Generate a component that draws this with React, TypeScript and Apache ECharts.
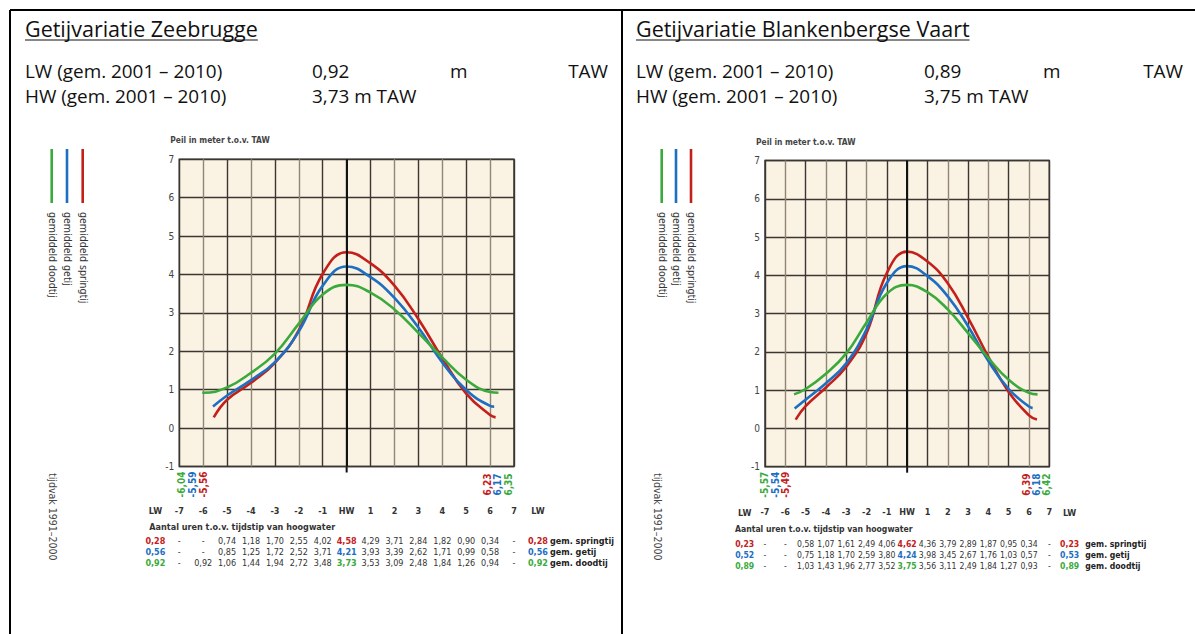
import React, { useEffect, useRef } from 'react';
import * as echarts from 'echarts';

// ---------- DATA ----------
const hours = [-7, -6, -5, -4, -3, -2, -1, 0, 1, 2, 3, 4, 5, 6, 7];
const seriesNames = ['gem. springtij', 'gem. getij', 'gem. doodtij'];
const legendNames = ['gemiddeld springtij', 'gemiddeld getij', 'gemiddeld doodtij'];

// Zeebrugge
const zbSpring = [null, null, 0.74, 1.18, 1.70, 2.55, 4.02, 4.58, 4.29, 3.71, 2.84, 1.82, 0.90, 0.34, null];
const zbMean = [null, null, 0.85, 1.25, 1.72, 2.52, 3.71, 4.21, 3.93, 3.39, 2.62, 1.71, 0.99, 0.58, null];
const zbNeap = [null, 0.92, 1.06, 1.44, 1.94, 2.72, 3.48, 3.73, 3.53, 3.09, 2.48, 1.84, 1.26, 0.94, null];
const zbLwStartLevel = [0.28, 0.56, 0.92];
const zbLwEndLevel = [0.28, 0.56, 0.92];
const zbLwStartTime = [-5.56, -5.59, -6.04];
const zbLwEndTime = [6.23, 6.17, 6.35];

// Blankenbergse Vaart
const bvSpring = [null, null, 0.58, 1.07, 1.61, 2.49, 4.06, 4.62, 4.36, 3.79, 2.89, 1.87, 0.95, 0.34, null];
const bvMean = [null, null, 0.75, 1.18, 1.70, 2.59, 3.80, 4.24, 3.98, 3.45, 2.67, 1.76, 1.03, 0.57, null];
const bvNeap = [null, null, 1.03, 1.43, 1.96, 2.77, 3.52, 3.75, 3.56, 3.11, 2.49, 1.84, 1.27, 0.93, null];
const bvLwStartLevel = [0.23, 0.52, 0.89];
const bvLwEndLevel = [0.23, 0.53, 0.89];
const bvLwStartTime = [-5.49, -5.54, -5.57];
const bvLwEndTime = [6.39, 6.18, 6.42];

const yTicks = { min: -1, max: 7, interval: 1 };

// ---------- STYLE / LAYOUT ----------
const W = 1195;
const H = 634;
const COLORS = ['#c3201c', '#1c6fc2', '#3aaa3c']; // spring, mean, neap
const FONT_HEAD = '"Open Sans", "Noto Sans", sans-serif';
const FONT_SMALL = '"Liberation Sans Narrow", "DejaVu Sans Condensed", Roboto, sans-serif';
const DARK = '#3a3633';
const GREY = '#8f8676';
const BG = '#faf2e2';

type Panel = {
  title: string; lwVal: string; hwVal: string;
  data: (number | null)[][];
  lwStartLevel: number[]; lwEndLevel: number[]; lwStartTime: number[]; lwEndTime: number[];
  textX: number; valX: number; mX: number; tawRight: number;
  grid: { left: number; top: number; width: number; height: number };
  legendX: number[]; tijdvakX: number;
  labelRowY: number; aantalY: number; rowY: number[];
  startLabelDx: number[]; endLabelDx: number[];
  tableSize: number;
};

const panels: Panel[] = [
  {
    title: 'Getijvariatie Zeebrugge', lwVal: '0,92', hwVal: '3,73 m TAW',
    data: [zbSpring, zbMean, zbNeap],
    lwStartLevel: zbLwStartLevel, lwEndLevel: zbLwEndLevel, lwStartTime: zbLwStartTime, lwEndTime: zbLwEndTime,
    textX: 25, valX: 312, mX: 450, tawRight: 608,
    grid: { left: 179.3, top: 159.3, width: 334.7, height: 307.2 },
    legendX: [82.7, 67, 51.7], tijdvakX: 53,
    labelRowY: 511, aantalY: 527, rowY: [541, 552.3, 563],
    startLabelDx: [24, 13, 2.5], endLabelDx: [-27, -16.5, -6],
    tableSize: 9,
  },
  {
    title: 'Getijvariatie Blankenbergse Vaart', lwVal: '0,89', hwVal: '3,75 m TAW',
    data: [bvSpring, bvMean, bvNeap],
    lwStartLevel: bvLwStartLevel, lwEndLevel: bvLwEndLevel, lwStartTime: bvLwStartTime, lwEndTime: bvLwEndTime,
    textX: 636, valX: 924, mX: 1043, tawRight: 1183,
    grid: { left: 765, top: 160.5, width: 284.3, height: 306.2 },
    legendX: [691, 676, 661.7], tijdvakX: 658,
    labelRowY: 512.7, aantalY: 529, rowY: [544, 555.3, 566],
    startLabelDx: [20, 10, -0.5], endLabelDx: [-23.3, -13.3, -2.5],
    tableSize: 8.6,
  },
];

const fmt = (v: number | null) => (v === null ? '-' : v.toFixed(2).replace('.', ','));

function measure(text: string, font: string) {
  const c = document.createElement('canvas').getContext('2d')!;
  c.font = font;
  return c.measureText(text).width;
}

function txt(x: number, y: number, text: string, o: any = {}) {
  const align = o.align || 'left';
  const valign = o.valign || 'middle';
  return {
    type: 'text', x, y, rotation: o.rotation || 0, silent: true,
    style: {
      text, fill: o.color || '#222', fontSize: o.size || 10, fontFamily: o.family || FONT_SMALL,
      fontWeight: o.weight || 'normal',
      align, verticalAlign: valign, textAlign: align, textVerticalAlign: valign,
    },
  };
}

function line(x1: number, y1: number, x2: number, y2: number, color: string, width: number) {
  return { type: 'line', silent: true, shape: { x1, y1, x2, y2 }, style: { stroke: color, lineWidth: width } };
}

function buildOption() {
  const grids: any[] = [];
  const xAxes: any[] = [];
  const yAxes: any[] = [];
  const series: any[] = [];
  const g: any[] = [];

  // frame
  g.push(line(10, 10, W, 10, '#000', 2));
  g.push(line(10, 10, 10, H, '#000', 2));
  g.push(line(622, 10, 622, H, '#000', 2));

  panels.forEach((p, pi) => {
    const gr = p.grid;
    const colW = gr.width / 14;
    const colX = (h: number) => gr.left + (h + 7) * colW;
    const gridRight = gr.left + gr.width;
    const gridBottom = gr.top + gr.height;

    grids.push({
      left: gr.left, top: gr.top, width: gr.width, height: gr.height,
      show: true, backgroundColor: BG, borderColor: DARK, borderWidth: 1.5,
    });
    xAxes.push({
      gridIndex: pi, type: 'value', min: -7, max: 7, interval: 1,
      axisLine: { show: false }, axisTick: { show: false },
      splitLine: {
        show: true,
        lineStyle: { width: 1.4, color: hours.map((h) => (h !== 0 && Math.abs(h) % 2 === 0 ? GREY : DARK)) },
      },
      axisLabel: {
        show: true, margin: p.labelRowY - gridBottom - 5, fontSize: 9, fontWeight: 'bold',
        fontFamily: FONT_SMALL, color: '#333', showMinLabel: true, showMaxLabel: true,
        formatter: (v: number) => (v === 0 ? 'HW' : String(v)),
      },
    });
    yAxes.push({
      gridIndex: pi, type: 'value', ...yTicks,
      axisLine: { show: false }, axisTick: { show: false },
      splitLine: { show: true, lineStyle: { width: 1.4, color: DARK } },
      axisLabel: { show: true, margin: 5, fontSize: 10, fontFamily: FONT_SMALL, color: '#444' },
    });

    p.data.forEach((vals, si) => {
      const pts: number[][] = [[p.lwStartTime[si], p.lwStartLevel[si]]];
      hours.forEach((h, i) => {
        const v = vals[i];
        if (v !== null && h > p.lwStartTime[si] && h < p.lwEndTime[si]) pts.push([h, v]);
      });
      pts.push([p.lwEndTime[si], p.lwEndLevel[si]]);
      series.push({
        type: 'line', name: seriesNames[si], xAxisIndex: pi, yAxisIndex: pi,
        data: pts, smooth: 0.45, symbol: 'none', silent: true,
        lineStyle: { color: COLORS[si], width: 2.6 }, itemStyle: { color: COLORS[si] },
        z: 3 + si,
        markLine: si === 0 ? {
          silent: true, symbol: 'none', label: { show: false },
          lineStyle: { color: '#111', width: 2, type: 'solid' },
          data: [{ xAxis: 0 }],
        } : undefined,
      });
    });

    // HW line extension below the grid
    g.push(line(colX(0), gridBottom, colX(0), gridBottom + 6, '#111', 2));

    // header
    const titleFont = 21.5;
    g.push(txt(p.textX, 28, p.title, { size: titleFont, family: FONT_HEAD, color: '#111' }));
    const tw = measure(p.title, `${titleFont}px "Open Sans"`);
    g.push(line(p.textX, 40, p.textX + tw, 40, '#111', 1));
    const hs = 18.9;
    g.push(txt(p.textX, 71, 'LW (gem. 2001 – 2010)', { size: hs, family: FONT_HEAD, color: '#111' }));
    g.push(txt(p.valX, 71, p.lwVal, { size: hs, family: FONT_HEAD, color: '#111' }));
    g.push(txt(p.mX, 71, 'm', { size: hs, family: FONT_HEAD, color: '#111' }));
    g.push(txt(p.tawRight, 71, 'TAW', { size: hs, family: FONT_HEAD, color: '#111', align: 'right' }));
    g.push(txt(p.textX, 96, 'HW (gem. 2001 – 2010)', { size: hs, family: FONT_HEAD, color: '#111' }));
    g.push(txt(p.valX, 96, p.hwVal, { size: hs, family: FONT_HEAD, color: '#111' }));

    // y axis title
    g.push(txt(gr.left - 9, gr.top - 19, 'Peil in meter t.o.v. TAW', { size: 8.4, weight: 'bold', color: '#444' }));

    // legend
    p.legendX.forEach((lx, si) => {
      g.push(line(lx, 149, lx, 203, COLORS[si], 2.6));
      g.push(txt(lx + 1, 212, legendNames[si], { size: 10.5, color: '#333', rotation: -Math.PI / 2 }));
    });

    // tijdvak
    g.push(txt(p.tijdvakX, 473, 'tijdvak 1991–2000', { size: 10.5, color: '#444', rotation: -Math.PI / 2 }));

    // LW time labels (rotated)
    [0, 1, 2].forEach((si) => {
      g.push(txt(gr.left + p.startLabelDx[si], gridBottom + 18, fmt(p.lwStartTime[si]),
        { size: 10, weight: 'bold', color: COLORS[si], rotation: Math.PI / 2, align: 'center' }));
      g.push(txt(gridRight + p.endLabelDx[si], gridBottom + 18, fmt(p.lwEndTime[si]),
        { size: 10, weight: 'bold', color: COLORS[si], rotation: Math.PI / 2, align: 'center' }));
    });

    // LW labels of the hour row
    g.push(txt(colX(-8), p.labelRowY, 'LW', { size: 9, weight: 'bold', color: '#333', align: 'center' }));
    g.push(txt(colX(8), p.labelRowY, 'LW', { size: 9, weight: 'bold', color: '#333', align: 'center' }));

    // table
    const ts = p.tableSize;
    g.push(txt(gr.left - 30, p.aantalY, 'Aantal uren t.o.v. tijdstip van hoogwater', { size: ts, weight: 'bold', color: '#333' }));
    p.data.forEach((vals, si) => {
      const y = p.rowY[si];
      g.push(txt(colX(-8), y, fmt(p.lwStartLevel[si]), { size: ts, weight: 'bold', color: COLORS[si], align: 'center' }));
      hours.forEach((h, i) => {
        const isHW = h === 0;
        g.push(txt(colX(h), y, fmt(vals[i]), {
          size: ts, weight: isHW ? 'bold' : 'normal', color: isHW ? COLORS[si] : '#333', align: 'center',
        }));
      });
      g.push(txt(colX(8), y, fmt(p.lwEndLevel[si]), { size: ts, weight: 'bold', color: COLORS[si], align: 'center' }));
      g.push(txt(gridRight + 36, y, seriesNames[si], { size: ts, weight: 'bold', color: '#222' }));
    });
  });

  return {
    animation: false,
    backgroundColor: '#fff',
    grid: grids,
    xAxis: xAxes,
    yAxis: yAxes,
    series,
    graphic: { elements: g },
  };
}

export default function App() {
  const ref = useRef<HTMLDivElement>(null);
  useEffect(() => {
    const prev = document.body.style.margin;
    document.body.style.margin = '0';
    const chart = echarts.init(ref.current!, null, { renderer: 'svg', width: W, height: H });
    chart.setOption(buildOption() as any);
    return () => {
      chart.dispose();
      document.body.style.margin = prev;
    };
  }, []);
  return <div ref={ref} style={{ width: W, height: H }} />;
}
